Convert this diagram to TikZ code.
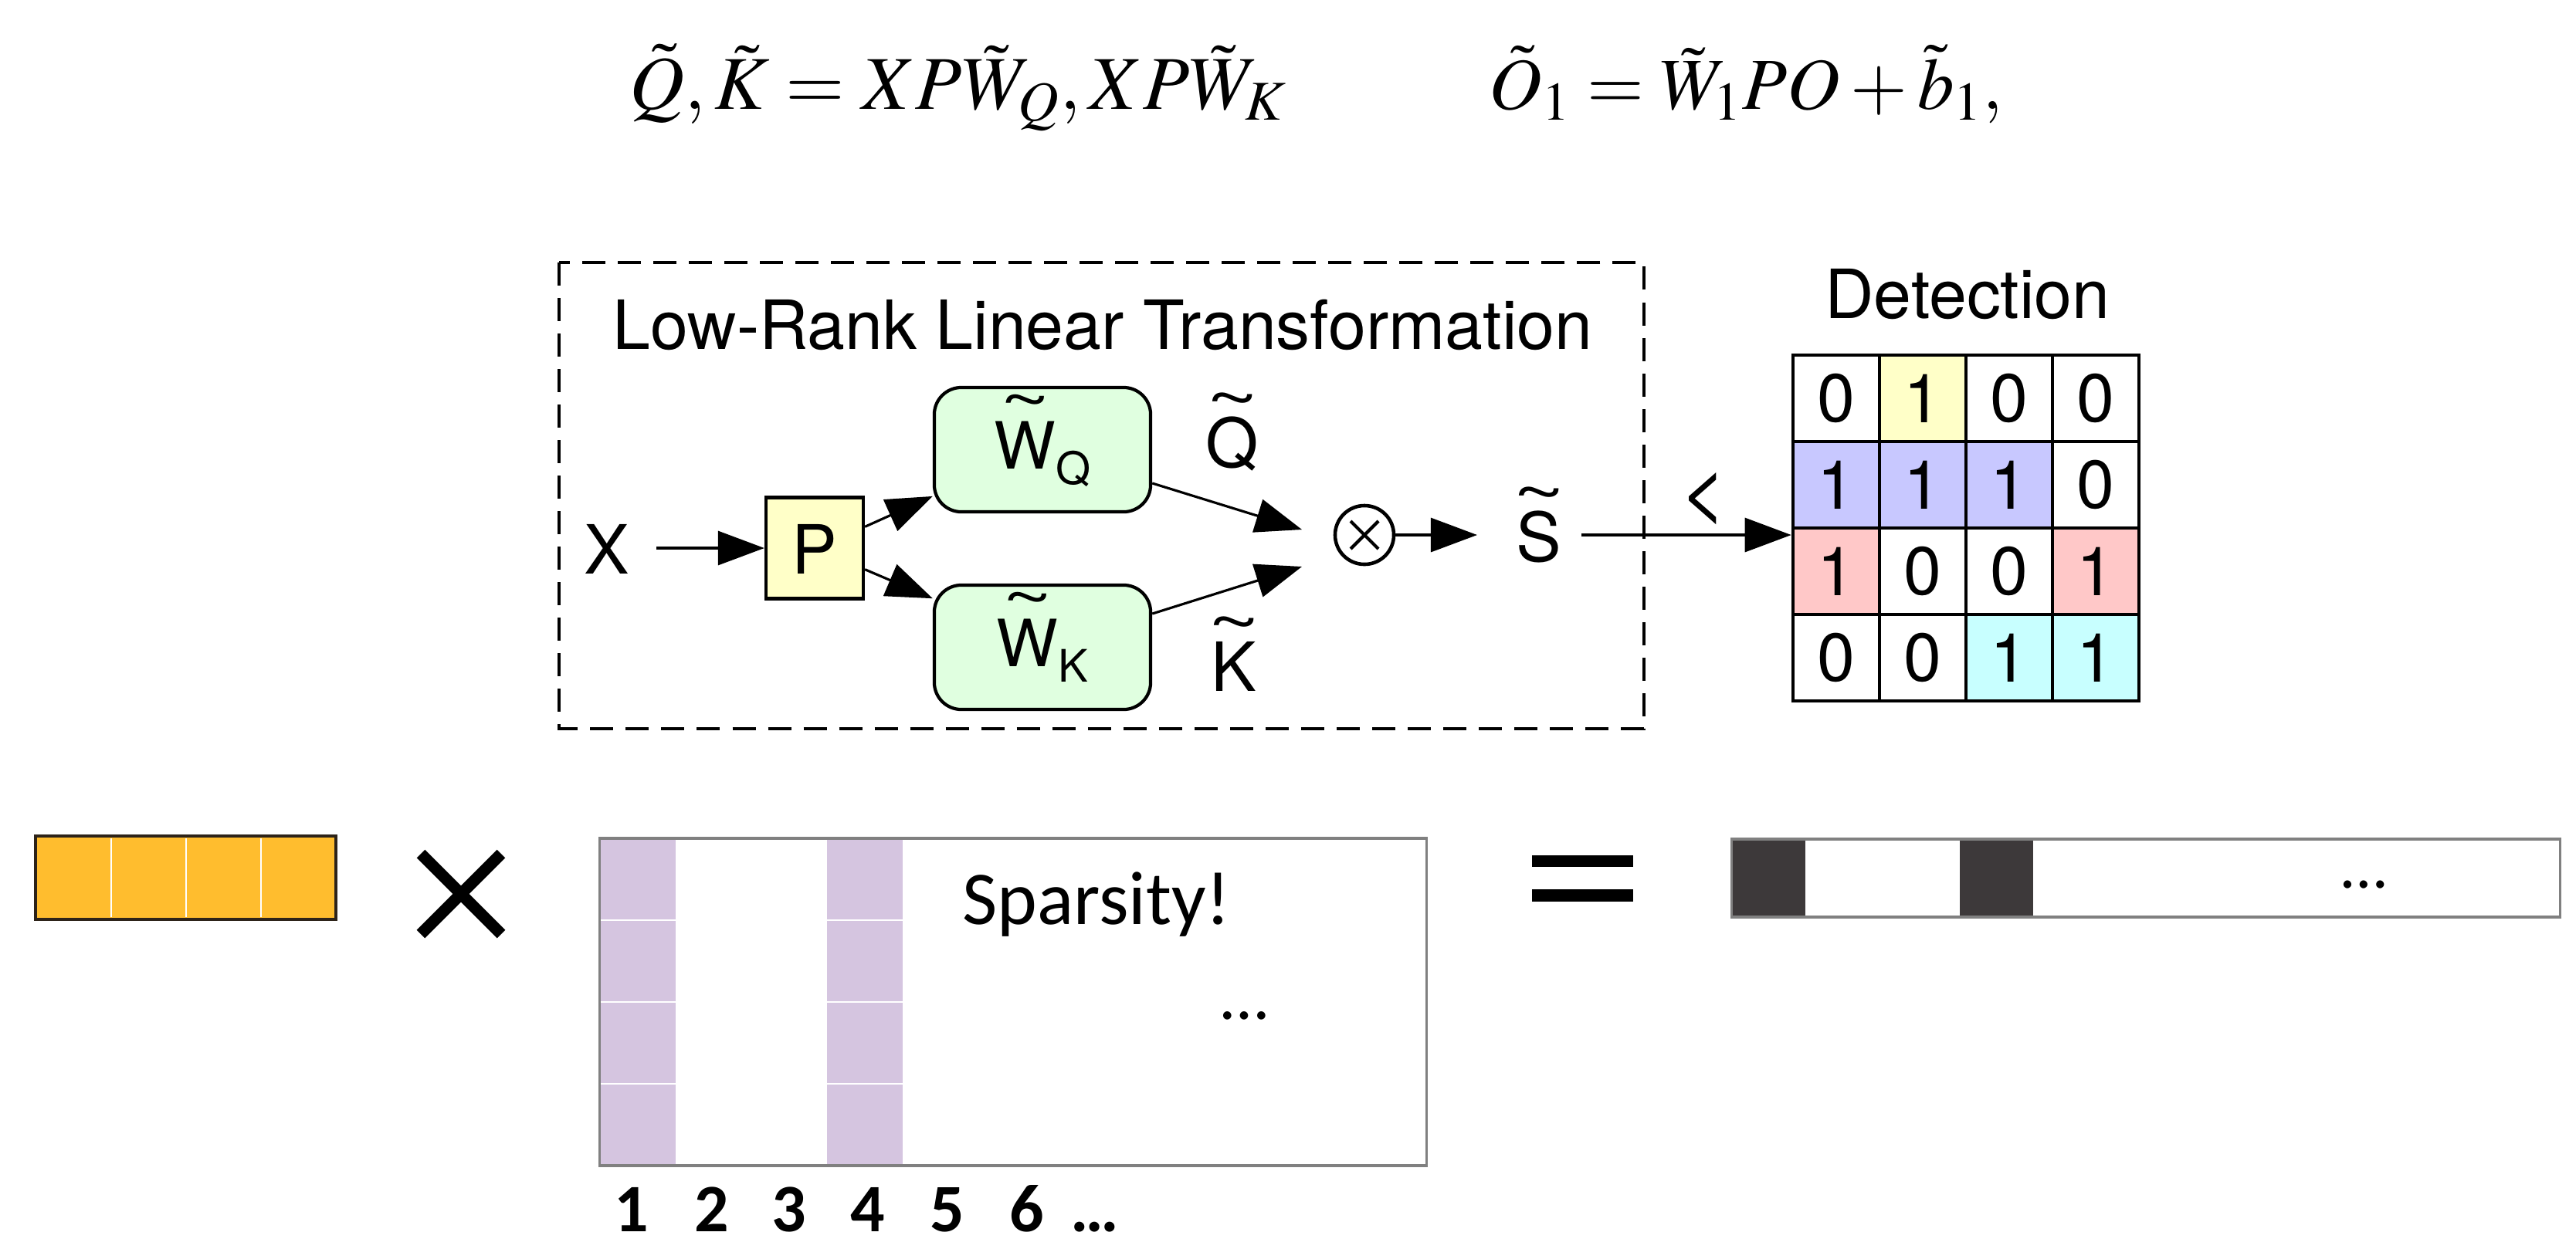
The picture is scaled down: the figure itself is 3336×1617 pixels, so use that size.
\documentclass[tikz,border=0pt]{standalone}
\usepackage{mathptmx}
\usepackage[no-math]{fontspec}
\setmainfont{TeX Gyre Heros}
\newfontfamily\calibri{Carlito}
\usetikzlibrary{arrows.meta}
\definecolor{pyel}{RGB}{255,255,200}
\definecolor{wgreen}{RGB}{224,255,224}
\definecolor{gblue}{RGB}{200,200,255}
\definecolor{gpink}{RGB}{255,200,200}
\definecolor{gcyan}{RGB}{200,255,255}
\definecolor{obar}{RGB}{255,189,46}
\definecolor{obord}{RGB}{45,35,25}
\definecolor{purp}{RGB}{213,197,224}
\definecolor{dgray}{RGB}{61,57,58}
\definecolor{gbord}{RGB}{128,128,128}
\newcommand\mytilde[2][0.7em]{\setbox0\hbox{#2}\rlap{\hbox to \wd0{\hss\raisebox{#1}{\scalebox{1.35}[0.9]{\textasciitilde}}\hss}}\box0}
\tikzset{
  lbl/.style={inner sep=0pt, anchor=base, font=\fontsize{25}{30}\selectfont},
  arr/.style={line width=0.9pt, -{Triangle[length=6mm,width=4.4mm]}},
  pbox/.style={draw, line width=1.2pt, fill=pyel, minimum width=1.26cm, minimum height=1.31cm,
    inner sep=0pt, text height=0.66cm, text depth=0pt, font=\fontsize{25}{30}\selectfont},
  wbox/.style={draw, line width=1.2pt, fill=wgreen, rounded corners=0.35cm, minimum width=2.8cm,
    minimum height=1.61cm, inner sep=0pt, text height=0.49cm, text depth=0pt, font=\fontsize{24}{29}\selectfont},
  cell/.style={draw, line width=1.3pt, minimum size=1.12cm, inner sep=0pt, font=\fontsize{25}{30}\selectfont},
  frm/.style={anchor=base west, inner sep=0pt, font=\fontsize{28}{34}\selectfont},
  num/.style={anchor=base, inner sep=0pt, font=\calibri\bfseries\fontsize{25}{30}\selectfont},
  cal/.style={anchor=base, inner sep=0pt, font=\calibri\fontsize{28}{34}\selectfont},
  gframe/.style={draw=gbord, line width=1pt, inner sep=0pt}
}
\begin{document}
\begin{tikzpicture}[x=0.01cm, y=-0.01cm]
\useasboundingbox (0,0) rectangle (3336,1617);
% formulas
\node[frm] (f1) at (815,141) {$\tilde{Q},\tilde{K}=XP\tilde{W}_Q,XP\tilde{W}_K$};
\node[frm, font=\fontsize{27}{33}\selectfont] (f2) at (1928,141) {$\tilde{O}_1=\tilde{W}_1PO+\tilde{b}_1,$};
% dashed frame
\draw[line width=1.3pt, dash pattern=on 0.3cm off 0.16cm] (724,340) rectangle (2129,944);
\node[lbl] (title) at (1428,452) {Low-Rank Linear Transformation};
% inner diagram
\node[lbl] (X) at (786,743) {X};
\node[pbox] (P) at (1055,710) {P};
\node[wbox] (WQ) at (1350,582.5) {\mytilde[0.74em]{W}\raisebox{-0.2cm}{\fontsize{16.5}{18}\selectfont Q}};
\node[wbox] (WK) at (1350,838.5) {\mytilde[0.74em]{W}\raisebox{-0.2cm}{\fontsize{16.5}{18}\selectfont K}};
\node[lbl] (Qt) at (1596,605) {\mytilde{Q}};
\node[lbl] (Kt) at (1598,895) {\mytilde{K}};
\node[draw, circle, line width=1.3pt, minimum size=0.76cm, inner sep=0pt] (ot) at (1767,693) {};
\draw[line width=1.2pt] (ot.center) ++(-18,-18) -- ++(36,36);
\draw[line width=1.2pt] (ot.center) ++(-18,18) -- ++(36,-36);
\node[lbl] (S) at (1993,727) {\mytilde{S}};
\coordinate (q1) at (1686,686);
\coordinate (k1) at (1686,734);
\draw[arr, shorten <=0.34cm] (X.east |- P.west) -- (P.west);
\draw[arr] (P.23) -- (WQ.203);
\draw[arr] (P.-23) -- (WK.156);
\draw[arr] (WQ.-17) -- (q1);
\draw[arr] (WK.17) -- (k1);
\draw[arr, shorten >=0.5cm] (ot.east) -- (S.west |- ot.east);
% detection grid
\node[lbl] (det) at (2548,412) {Detection};
\foreach \r/\c/\v/\col in {1/1/0/white,1/2/1/pyel,1/3/0/white,1/4/0/white,
  2/1/1/gblue,2/2/1/gblue,2/3/1/gblue,2/4/0/white,
  3/1/1/gpink,3/2/0/white,3/3/0/white,3/4/1/gpink,
  4/1/0/white,4/2/0/white,4/3/1/gcyan,4/4/1/gcyan}
  \node[cell, fill=\col] (c\r\c) at ({2266+112*\c},{404+112*\r}) {\v};
\path (S.east |- ot.east) coordinate (s1);
\draw[arr, shorten <=0.25cm] (s1) -- (s1 -| c31.west);
\node[inner sep=0pt, font=\fontsize{30}{34}\selectfont] (lt) at (2206,646) {<};
% bottom: vector
\node[draw=obord, fill=obar, line width=1pt, minimum width=3.89cm, minimum height=1.08cm, inner sep=0pt] (ob) at (240.5,1137) {};
\foreach \x in {144,241,338} \draw[white, line width=0.7pt] (\x,1086) -- (\x,1188);
\draw[line width=0.15cm] (545,1106) -- (649,1210) (545,1210) -- (649,1106);
% matrix
\fill[purp] (777,1086) rectangle (875,1510);
\fill[purp] (1071,1086) rectangle (1169,1510);
\foreach \y in {1192,1298,1404} {
  \draw[white, line width=0.8pt] (777,\y) -- (875,\y);
  \draw[white, line width=0.8pt] (1071,\y) -- (1169,\y);
}
\node[gframe, minimum width=10.7cm, minimum height=4.24cm] (mat) at (1312,1298) {};
\node[cal] (sp) at (1420,1197) {Sparsity!};
\node[cal, font=\calibri\fontsize{25}{30}\selectfont] (md) at (1612,1320) {…};
\foreach \i/\x in {1/818,2/922,3/1022,4/1124,5/1227,6/1330}
  \node[num] (n\i) at (\x,1595) {\i};
\node[num] (nd) at (1418,1595) {…};
% equals
\fill (1984,1108) rectangle (2115,1123);
\fill (1984,1152) rectangle (2115,1168);
% result
\fill[dgray] (2243,1087) rectangle (2338,1188);
\fill[dgray] (2538,1087) rectangle (2633,1188);
\node[gframe, minimum width=10.72cm, minimum height=1.01cm] (res) at (2779,1137.5) {};
\node[cal, font=\calibri\fontsize{24}{29}\selectfont] (rd) at (3062,1150) {…};
\end{tikzpicture}
\end{document}
